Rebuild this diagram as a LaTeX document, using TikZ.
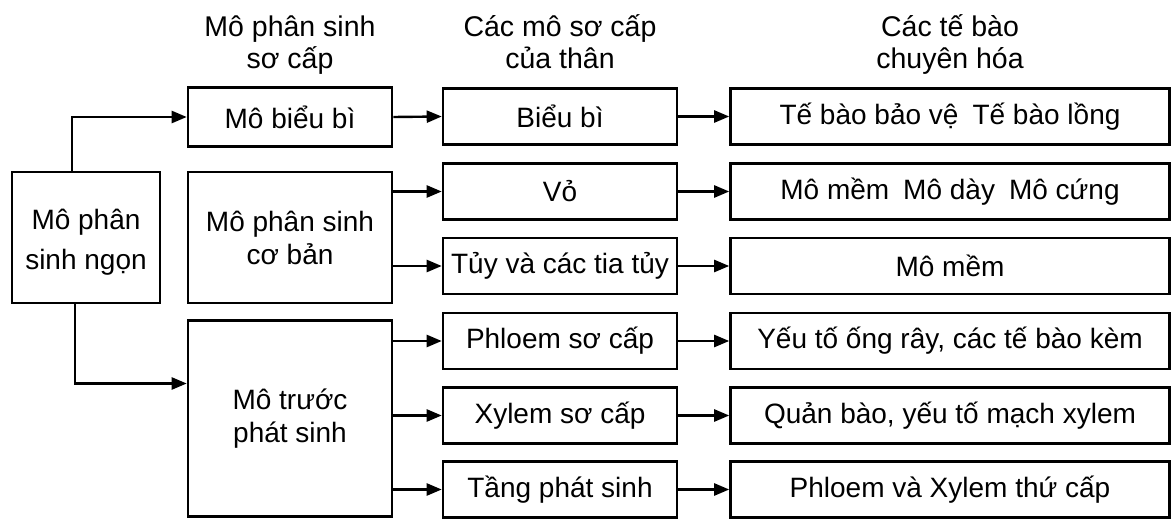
\documentclass[tikz,border=0pt]{standalone}
\usepackage{fontspec}
\setmainfont{Liberation Sans}
\usetikzlibrary{arrows.meta}
\begin{document}
\begin{tikzpicture}[x=1pt,y=-1pt,
  box/.style={draw,line width=2.6pt,inner sep=0pt,align=center,font=\fontsize{28}{33}\selectfont},
  hdr/.style={align=center,font=\fontsize{28.5}{32}\selectfont,inner sep=0pt,anchor=north},
  arr/.style={line width=2.4pt,-{Triangle[length=15pt,width=12pt]}}]
\useasboundingbox (0,0) rectangle (1172,519);
% headers
\node[hdr] (h2) at (290,9) {\rule{0pt}{27pt}Mô phân sinh\\sơ cấp};
\node[hdr] (h3) at (560,9) {\rule{0pt}{27pt}Các mô sơ cấp\\của thân};
\node[hdr] (h4) at (950,9) {\rule{0pt}{27pt}Các tế bào\\chuyên hóa};
% column 1
\node[box,minimum width=148pt,minimum height=131pt,font=\fontsize{28}{40}\selectfont] (c1) at (86,237.5) {\rule{0pt}{30pt}Mô phân\\sinh ngọn};
% column 2
\node[box,minimum width=204pt,minimum height=59pt] (m1) at (290,117) {Mô biểu bì};
\node[box,minimum width=204pt,minimum height=131pt] (m2) at (290,237.5) {Mô phân sinh\\cơ bản};
\node[box,minimum width=204pt,minimum height=196pt] (m3) at (290,418.5) {Mô trước\\phát sinh};
% column 3
\foreach \n/\y/\t in {a1/116.5/Biểu bì, a2/191.5/Vỏ, a3/266/Tủy và các tia tủy, a4/341/Phloem sơ cấp, a5/415.5/Xylem sơ cấp, a6/489.5/Tầng phát sinh}
  \node[box,minimum width=234pt,minimum height=56pt] (\n) at (560,\y) {\t};
% column 4
\foreach \n/\y/\t in {b1/116.5/Tế bào bảo vệ\enspace Tế bào lồng, b2/191.5/Mô mềm\enspace Mô dày\enspace Mô cứng, b3/266/Mô mềm, b4/341/{Yếu tố ống rây, các tế bào kèm}, b5/415.5/{Quản bào, yếu tố mạch xylem}, b6/489.5/Phloem và Xylem thứ cấp}
  \node[box,minimum width=439pt,minimum height=56pt] (\n) at (950,\y) {\t};
% connectors from column 1
\draw[arr] ([xshift=-14pt]c1.north) |- (m1.west);
\draw[arr] ([xshift=-11pt]c1.south) |- ([yshift=35pt]m3.west);
% column 2 to column 3
\draw[arr] (m1.east) -- (a1.west);
\draw[arr] (m2.east |- a2.west) -- (a2.west);
\draw[arr] (m2.east |- a3.west) -- (a3.west);
\draw[arr] (m3.east |- a4.west) -- (a4.west);
\draw[arr] (m3.east |- a5.west) -- (a5.west);
\draw[arr] (m3.east |- a6.west) -- (a6.west);
% column 3 to column 4
\foreach \i in {1,...,6}
  \draw[arr] (a\i.east) -- (b\i.west);
\end{tikzpicture}
\end{document}
